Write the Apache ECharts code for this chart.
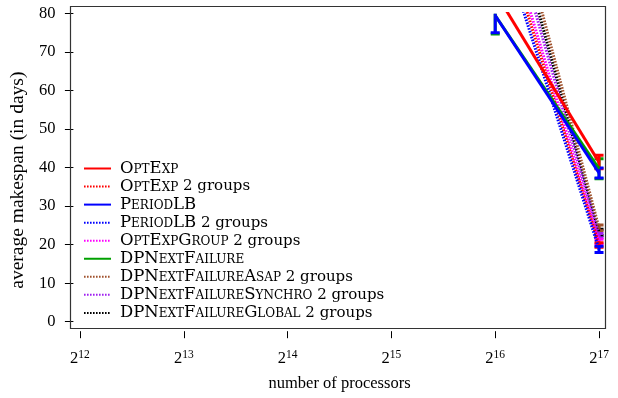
<!DOCTYPE html>
<html>
<head>
<meta charset="utf-8">
<script src="https://cdn.jsdelivr.net/npm/echarts@6/dist/echarts.min.js"></script>
<style>
  html, body { margin: 0; padding: 0; background: #fff; }
  #chart { width: 618px; height: 398px; }
</style>
</head>
<body>
<div id="chart"></div>
<script>
// Processor counts measured (powers of two)
const processors = [65536, 131072];
const xTickExponents = [12, 13, 14, 15, 16, 17];
const yTicks = [0, 10, 20, 30, 40, 50, 60, 70, 80];

// Average makespan (days) per processor count, with error-bar bounds [low, high]
const optExp = [85.5, 41.4];
const optExpErr = [[82.0, 89.0], [39.7, 43.2]];
const optExp2g = [107.2, 19.9];
const optExp2gErr = [[101.0, 113.0], [19.3, 20.5]];
const periodLB = [79.5, 38.6];
const periodLBErr = [[75.0, 84.0], [37.3, 39.9]];
const periodLB2g = [103.7, 18.8];
const periodLB2gErr = [[98.0, 109.0], [18.0, 19.6]];
const optExpGroup2g = [110.9, 20.8];
const optExpGroup2gErr = [[105.0, 117.0], [20.2, 21.4]];
const dpNextFailure = [79.5, 39.7];
const dpNextFailureErr = [[74.7, 84.3], [37.1, 42.3]];
const dpAsap2g = [126.4, 24.3];
const dpAsap2gErr = [[120.0, 133.0], [23.6, 25.1]];
const dpSynchro2g = [117.0, 22.3];
const dpSynchro2gErr = [[111.0, 123.0], [21.8, 22.9]];
const dpGlobal2g = [121.5, 23.2];
const dpGlobal2gErr = [[115.0, 128.0], [22.4, 24.0]];

const legendOrder = [
  'OptExp', 'OptExp 2 groups', 'PeriodLB', 'PeriodLB 2 groups',
  'OptExpGroup 2 groups', 'DPNextFailure', 'DPNextFailureAsap 2 groups',
  'DPNextFailureSynchro 2 groups', 'DPNextFailureGlobal 2 groups'
];

// Drawing order (later entries are painted on top)
const seriesDefs = [
  { name: 'DPNextFailureGlobal 2 groups', values: dpGlobal2g, err: dpGlobal2gErr, color: '#000000', dotted: true },
  { name: 'DPNextFailureAsap 2 groups', values: dpAsap2g, err: dpAsap2gErr, color: '#a0522d', dotted: true },
  { name: 'DPNextFailureSynchro 2 groups', values: dpSynchro2g, err: dpSynchro2gErr, color: '#a020f0', dotted: true },
  { name: 'OptExpGroup 2 groups', values: optExpGroup2g, err: optExpGroup2gErr, color: '#ff00ff', dotted: true },
  { name: 'OptExp 2 groups', values: optExp2g, err: optExp2gErr, color: '#ff0000', dotted: true },
  { name: 'PeriodLB 2 groups', values: periodLB2g, err: periodLB2gErr, color: '#0000ff', dotted: true },
  { name: 'DPNextFailure', values: dpNextFailure, err: dpNextFailureErr, color: '#00a000', dotted: false },
  { name: 'OptExp', values: optExp, err: optExpErr, color: '#ff0000', dotted: false },
  { name: 'PeriodLB', values: periodLB, err: periodLBErr, color: '#0000ff', dotted: false }
];

const FONT = '"Liberation Serif", "DejaVu Serif", serif';
const LEGEND_FONT = '"DejaVu Serif", "Liberation Serif", serif';
const exponents = processors.map(p => Math.log2(p));

// Vertical error bar with end caps, clipped to the plotting area
function renderErrorBar(params, api) {
  const x = api.value(0), lo = api.value(1), hi = api.value(2);
  const cs = params.coordSys;
  const pLo = api.coord([x, lo]);
  const pHi = api.coord([x, hi]);
  const top = cs.y, bottom = cs.y + cs.height;
  const y1 = Math.max(pHi[1], top);
  const y2 = Math.min(pLo[1], bottom);
  if (y1 >= y2) return null;
  const style = { stroke: api.visual('color'), lineWidth: 3 };
  const half = 4.5;
  const children = [{ type: 'line', shape: { x1: pLo[0], y1: y1, x2: pLo[0], y2: y2 }, style: style }];
  if (pHi[1] >= top) children.push({ type: 'line', shape: { x1: pHi[0] - half, y1: pHi[1], x2: pHi[0] + half, y2: pHi[1] }, style: style });
  if (pLo[1] <= bottom) children.push({ type: 'line', shape: { x1: pLo[0] - half, y1: pLo[1], x2: pLo[0] + half, y2: pLo[1] }, style: style });
  return { type: 'group', children: children };
}

const series = [];
seriesDefs.forEach(d => {
  series.push({
    name: d.name,
    type: 'line',
    data: exponents.map((e, i) => [e, d.values[i]]),
    symbol: 'none',
    color: d.color,
    lineStyle: { color: d.color, width: 3, type: d.dotted ? [1.6, 1.4] : 'solid' },
    clip: true
  });
});
seriesDefs.forEach(d => {
  series.push({
    name: d.name + ' err',
    type: 'custom',
    color: d.color,
    itemStyle: { color: d.color },
    renderItem: renderErrorBar,
    data: exponents.map((e, i) => [e, d.err[i][0], d.err[i][1]]),
    clip: true,
    z: 3
  });
});

const chart = echarts.init(document.getElementById('chart'), null, { renderer: 'canvas' });
chart.setOption({
  animation: false,
  backgroundColor: '#ffffff',
  grid: { left: 70.7, right: 12.3, top: 13.6, bottom: 76.3, containLabel: false },
  xAxis: {
    type: 'value',
    min: 11.9367,
    max: 17.0642,
    offset: 9.5,
    axisLine: { show: false, onZero: false },
    splitLine: { show: false },
    axisTick: { show: true, length: 7, customValues: xTickExponents, lineStyle: { color: '#000', width: 1 } },
    axisLabel: {
      customValues: xTickExponents,
      margin: 18,
      color: '#000',
      formatter: v => '{b|2}{s|' + Math.round(v) + '}',
      rich: {
        b: { fontFamily: FONT, fontSize: 16.5, color: '#000', verticalAlign: 'bottom', lineHeight: 18 },
        s: { fontFamily: FONT, fontSize: 11.5, color: '#000', verticalAlign: 'top', lineHeight: 9.5 }
      }
    },
    name: 'number of processors',
    nameLocation: 'middle',
    nameGap: 44,
    nameTextStyle: { fontFamily: FONT, fontSize: 16.5, color: '#000' }
  },
  yAxis: {
    type: 'value',
    min: yTicks[0],
    max: yTicks[yTicks.length - 1],
    interval: 10,
    axisLine: { show: false },
    splitLine: { show: false },
    axisTick: { show: true, length: 8.5, lineStyle: { color: '#000', width: 1 } },
    axisLabel: { margin: 18, color: '#000', fontFamily: FONT, fontSize: 16.5 },
    name: 'average makespan (in days)',
    nameLocation: 'middle',
    nameRotate: 90,
    nameGap: 27,
    nameTextStyle: { fontFamily: FONT, fontSize: 19.5, color: '#000', padding: [0, 25, 0, 0] }
  },
  legend: {
    data: legendOrder,
    orient: 'vertical',
    left: 83,
    top: 160,
    padding: 0,
    itemWidth: 27,
    itemHeight: 14,
    itemGap: 1.05,
    selectedMode: false,
    itemStyle: { color: 'transparent', borderColor: 'transparent', borderWidth: 0, opacity: 0 },
    textStyle: { fontFamily: LEGEND_FONT, fontSize: 15, color: '#000', lineHeight: 14, padding: [0, 0, 0, 4] },
    formatter: name => {
      const m = name.match(/^(\S+)(.*)$/);
      return '{sc|' + m[1] + '}' + m[2];
    }
  },
  graphic: [{
    type: 'rect',
    silent: true,
    z: 10,
    shape: { x: 70.5, y: 6.5, width: 535, height: 322 },
    style: { fill: 'none', stroke: '#333', lineWidth: 1.2 }
  }],
  series: series
});
// small-caps treatment for the method names in the legend
chart.setOption({
  legend: {
    textStyle: {
      rich: {
        sc: { fontFamily: LEGEND_FONT, fontSize: 16.5, fontWeight: 'small-caps', color: '#000', lineHeight: 14 }
      }
    }
  }
});
</script>
</body>
</html>
